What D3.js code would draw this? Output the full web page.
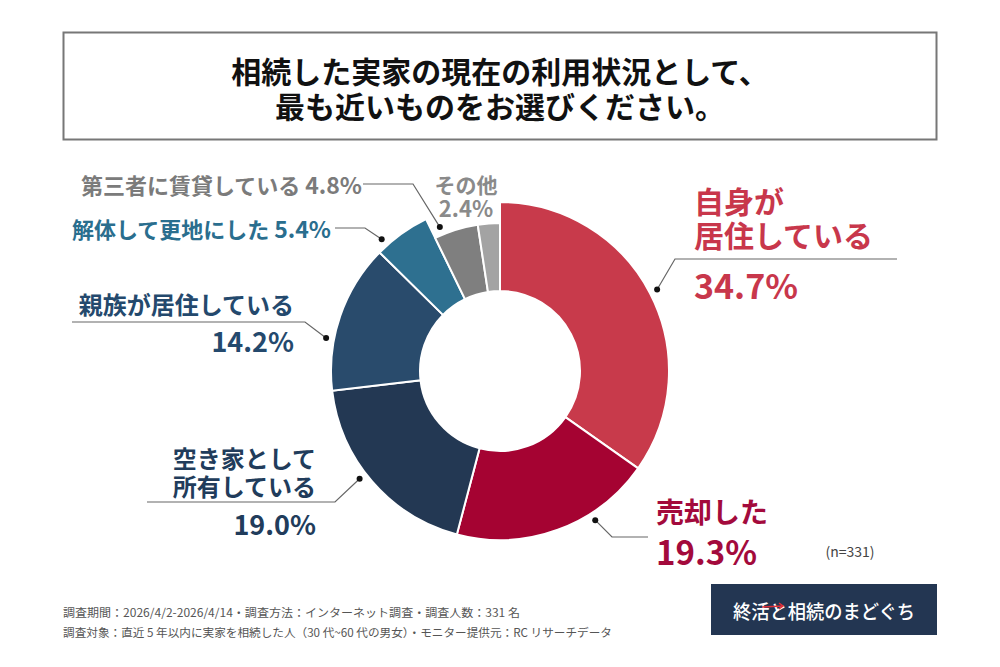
<!DOCTYPE html>
<html>
<head>
<meta charset="utf-8">
<script src="https://cdn.jsdelivr.net/npm/d3@7"></script>
<style>
  body { margin: 0; background: #fff; }
  text { font-family: "Noto Sans CJK JP", "Noto Sans", sans-serif; }
</style>
</head>
<body>
<main></main>
<script>
// Data
const categories = [
  "自身が居住している",
  "売却した",
  "空き家として所有している",
  "親族が居住している",
  "解体して更地にした",
  "第三者に賃貸している",
  "その他",
];
const values = [34.7, 19.3, 19.0, 14.2, 5.4, 4.8, 2.4];
const sampleLabel = "(n=331)";
const titleLines = [
  "相続した実家の現在の利用状況として、",
  "最も近いものをお選びください。",
];
const footerLines = [
  "調査期間：2026/4/2-2026/4/14・調査方法：インターネット調査・調査人数：331 名",
  "調査対象：直近 5 年以内に実家を相続した人（30 代~60 代の男女）・モニター提供元：RC リサーチデータ",
];
const logoText = "終活と相続のまどぐち";

// Set dimensions
const w = 1000;
const h = 667;
const cx = 500;
const cy = 371;
const rOuter = 169;
const rOuterSmall = 148;
const rInner = 80;

const sliceColors = ["#c83a4b", "#a50332", "#233853", "#294b6c", "#2e7090", "#7f7f7f", "#a3a3a3"];
const textColors = ["#c8374b", "#a30a3c", "#213c5b", "#24496d", "#2a6e8e", "#7b7b7b", "#8a8a8a"];

const svg = d3
  .select("main")
  .append("svg")
  .attr("width", w)
  .attr("height", h)
  .attr("viewBox", `0 0 ${w} ${h}`);

// Title box
svg
  .append("rect")
  .attr("x", 63.5)
  .attr("y", 32.5)
  .attr("width", 873)
  .attr("height", 107)
  .attr("fill", "#fff")
  .attr("stroke", "#777")
  .attr("stroke-width", 2);

const title = svg
  .append("text")
  .attr("text-anchor", "middle")
  .attr("dominant-baseline", "central")
  .attr("font-size", 30)
  .attr("font-weight", 700)
  .attr("fill", "#111");

title
  .selectAll("tspan")
  .data(titleLines)
  .enter()
  .append("tspan")
  .attr("x", w / 2)
  .attr("y", (d, i) => 70 + i * 35)
  .text((d) => d);

// Donut
const pie = d3.pie().sort(null).value((d) => d);
const arcs = pie(values);
const outerOf = (i) => (i >= 5 ? rOuterSmall : rOuter);
const arc = d3.arc().innerRadius(rInner);

const chart = svg.append("g").attr("transform", `translate(${cx}, ${cy})`);

chart
  .selectAll("path")
  .data(arcs)
  .enter()
  .append("path")
  .attr("d", (d, i) => arc.outerRadius(outerOf(i))(d))
  .attr("fill", (d, i) => sliceColors[i])
  .attr("stroke", "#fff")
  .attr("stroke-width", 2);

// Leader lines: where along the slice the dot sits, then elbow + end of the line
const leaders = [
  { t: 0.5, elbow: [675, 259], end: 897 },
  { t: 0.32, elbow: [612, 537], end: 648 },
  { t: 0.55, elbow: [335, 502], end: 147 },
  { t: 0.34, elbow: [305, 322], end: 72 },
  { t: 0.18, elbow: [365, 228], end: 335 },
  { t: 0.19, elbow: [413, 184], end: 363 },
];

leaders.forEach((l, i) => {
  const a = arcs[i];
  const ang = a.startAngle + l.t * (a.endAngle - a.startAngle);
  const r = outerOf(i) + 8;
  const px = cx + r * Math.sin(ang);
  const py = cy - r * Math.cos(ang);
  svg
    .append("path")
    .attr("d", d3.line()([[px, py], l.elbow, [l.end, l.elbow[1]]]))
    .attr("fill", "none")
    .attr("stroke", "#666")
    .attr("stroke-width", 1.2);
  svg
    .append("circle")
    .attr("cx", px)
    .attr("cy", py)
    .attr("r", 3)
    .attr("fill", "#111");
});

// Labels: one text per group, one tspan per line [text, y, size]
const pct = (v) => `${v.toFixed(1)}%`;
const label = (x, anchor, color, lines) => {
  const t = svg
    .append("text")
    .attr("text-anchor", anchor)
    .attr("dominant-baseline", "central")
    .attr("font-weight", 700)
    .attr("fill", color);
  lines.forEach(([txt, y, size]) => {
    t.append("tspan").attr("x", x).attr("y", y).attr("font-size", size).text(txt);
  });
  return t;
};

// 自身が居住している
label(694, "start", textColors[0], [
  ["自身が", 200, 30],
  ["居住している", 234, 30],
  [pct(values[0]), 284, 34],
]);

// 売却した
label(656, "start", textColors[1], [
  [categories[1], 511, 28],
  [pct(values[1]), 551, 33],
]);
label(850, "middle", "#444", [[sampleLabel, 551, 14]]).attr("font-weight", 400);

// 空き家として所有している
label(316, "end", textColors[2], [
  ["空き家として", 457, 24],
  ["所有している", 485, 24],
  [pct(values[2]), 523, 27],
]);

// 親族が居住している
label(294, "end", textColors[3], [
  [categories[3], 303, 24],
  [pct(values[3]), 340, 27],
]);

// 解体して更地にした / 第三者に賃貸している
[[4, 228, 331], [5, 184, 362]].forEach(([i, y, x]) => {
  const t = label(x, "end", textColors[i], [[categories[i] + " ", y, 22]]);
  t.append("tspan").attr("font-size", 23).text(pct(values[i]));
});

// その他
label(466, "middle", textColors[6], [
  [categories[6], 184, 21],
  [pct(values[6]), 207, 22],
]);

// Footer
svg
  .selectAll(".footer")
  .data(footerLines)
  .enter()
  .append("text")
  .attr("class", "footer")
  .attr("x", 63)
  .attr("y", (d, i) => 612 + i * 20)
  .attr("dominant-baseline", "central")
  .attr("font-size", 11.5)
  .attr("fill", "#555")
  .attr("textLength", (d, i) => (i === 0 ? 457 : 549))
  .attr("lengthAdjust", "spacingAndGlyphs")
  .text((d) => d);

// Logo
svg
  .append("rect")
  .attr("x", 711)
  .attr("y", 584)
  .attr("width", 226)
  .attr("height", 51)
  .attr("fill", "#233652");

svg
  .append("text")
  .attr("x", 824)
  .attr("y", 610)
  .attr("text-anchor", "middle")
  .attr("dominant-baseline", "central")
  .attr("font-size", 19)
  .attr("font-weight", 500)
  .attr("fill", "#fff")
  .attr("textLength", 182)
  .attr("lengthAdjust", "spacingAndGlyphs")
  .text(logoText);

svg
  .append("path")
  .attr("d", "M762,607 L783,606 M779,603 L783,606 L779,609")
  .attr("fill", "none")
  .attr("stroke", "#e0303a")
  .attr("stroke-width", 1.5);
</script>
</body>
</html>
